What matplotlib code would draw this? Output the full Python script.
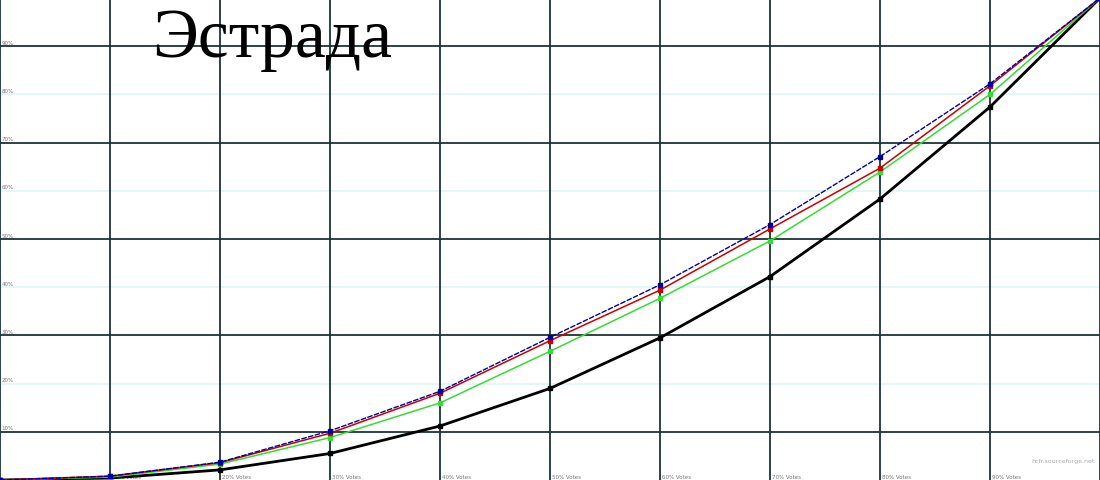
import matplotlib.pyplot as plt

# доля голосов (ось X) и накопленные проценты для каждой серии
x_pct = [0, 10, 20, 30, 40, 50, 60, 70, 80, 90, 100]
blue = [0, 0.8, 3.7, 10.2, 18.4, 29.6, 40.5, 53.0, 67.1, 82.2, 100]
red = [0, 0.8, 3.6, 9.7, 18.0, 28.9, 39.4, 52.1, 64.7, 81.8, 100]
green = [0, 0.6, 3.3, 8.8, 16.0, 26.7, 37.7, 49.6, 63.9, 80.0, 100]
black = [0, 0.4, 2.1, 5.5, 11.2, 19.0, 29.5, 42.2, 58.3, 77.4, 100]

y_ticks = [10, 20, 30, 40, 50, 60, 70, 80, 90]
x_labels = ['%d%% Votes' % v for v in x_pct[1:-1]]

fig = plt.figure(figsize=(11, 4.81), dpi=100)
ax = fig.add_axes([0, 0, 1, 1])
ax.set_xlim(0, 100)
ax.set_ylim(0, 99.8)
ax.axis('off')

dark = '#1c3434'
light = '#e2f6f6'
for v in y_ticks:
    c = dark if v % 20 == 10 else light
    ax.axhline(v, color=c, lw=1.3, zorder=1)
    ax.text(0.15, v + 0.3, '%d%%' % v, fontsize=4, color='#777777', va='bottom', ha='left')
for v in x_pct:
    ax.axvline(v, color=dark, lw=1.3, zorder=1)
for v, lab in zip(x_pct[1:-1], x_labels):
    ax.text(v + 0.2, 0.3, lab, fontsize=4, color='#777777', va='bottom', ha='left')

ax.plot(x_pct, black, color='black', lw=2, marker='s', ms=2.5, zorder=3)
ax.plot(x_pct, green, color='#33dd33', lw=1.1, marker='s', ms=3, zorder=4)
ax.plot(x_pct, red, color='#cc0000', lw=1.1, marker='s', ms=3, zorder=5)
ax.plot(x_pct, blue, color='#0000a0', lw=1, ls=(0, (4, 1)), marker='s', ms=3, zorder=6)

ax.text(13.8, 98.0, 'Эстрада', fontsize=50, family='Liberation Serif', color='black',
        va='top', ha='left')
ax.text(99.5, 3.5, 'hcfr.sourceforge.net', fontsize=4.5, color='#aaaaaa', ha='right', va='bottom')

fig.savefig('out.png', dpi=100)
